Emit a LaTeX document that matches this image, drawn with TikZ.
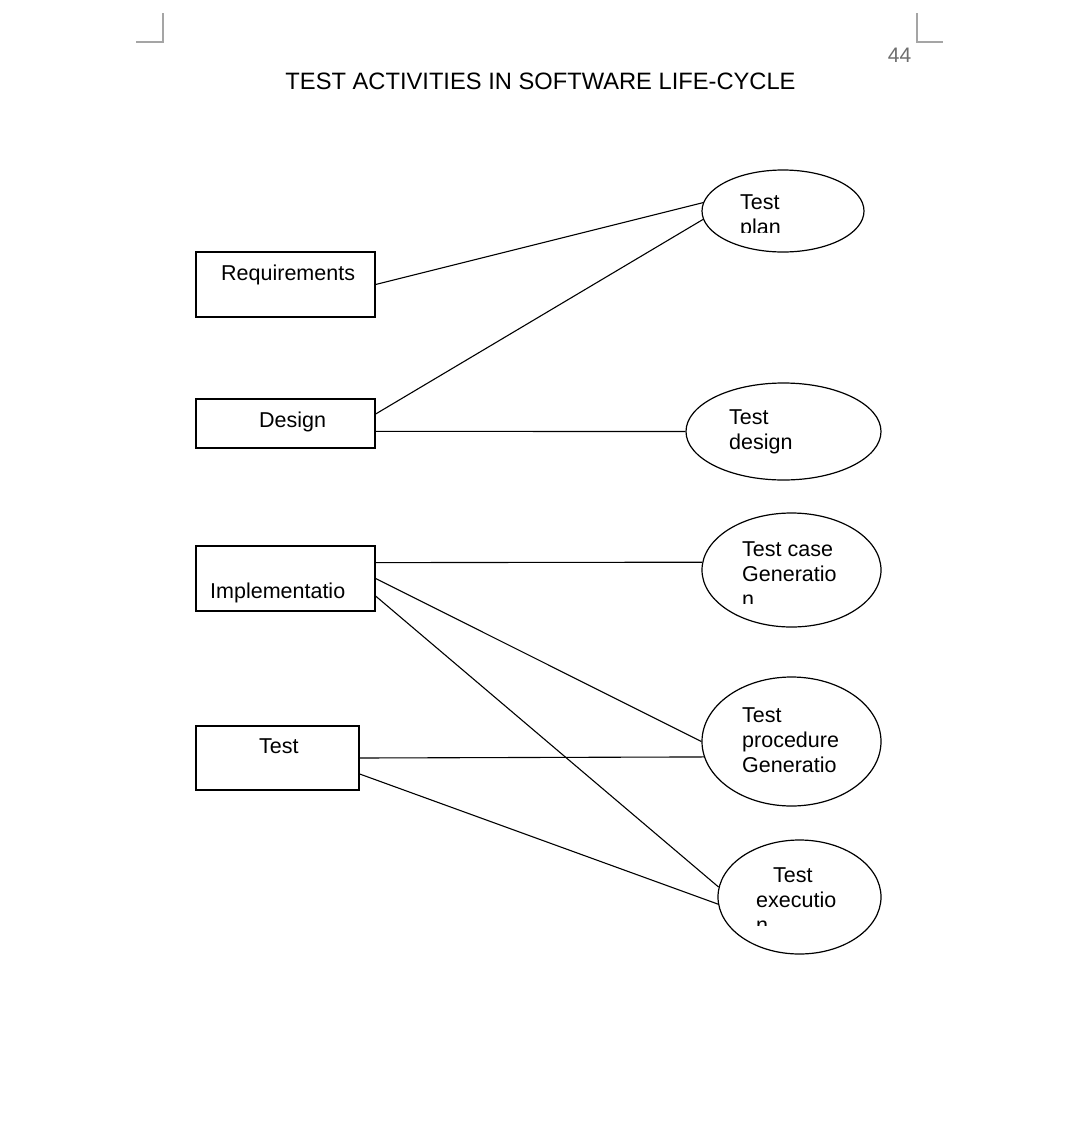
\documentclass[tikz,border=0pt]{standalone}
\usepackage{fontspec}
\setmainfont{Liberation Sans}
\usetikzlibrary{shapes.geometric}

\definecolor{markgray}{RGB}{165,165,165}
\definecolor{pagegray}{RGB}{110,110,110}

\tikzset{
	box/.style = {draw, rectangle, inner sep=0, line width=1.2pt},
	oval/.style = {draw, ellipse, inner sep=0, line width=1.2pt},
	lbl/.style = {anchor=base west, inner sep=0, font=\fontsize{21.5}{25}\selectfont},
	olbl/.style = {anchor=north west, inner sep=0, align=left, font=\fontsize{21.5}{25}\selectfont},
	cropmark/.style = {draw=markgray, line width=1.3pt},
	link/.style = {line width=1.1pt}
}

\begin{document}
\begin{tikzpicture}[x=1pt,y=-1pt]
	\useasboundingbox (0,0) rectangle (1080,1133);

	\draw[cropmark] (163,13) -- (163,42) -- (136,42);
	\draw[cropmark] (917,13) -- (917,42) -- (943,42);
	\node[anchor=base, inner sep=0, text=pagegray, font=\fontsize{21}{25}\selectfont] (page) at (899.5,62) {44};
	\node[anchor=base, inner sep=0, font=\fontsize{23.7}{28}\selectfont] (title) at (540.5,89) {TEST ACTIVITIES IN SOFTWARE LIFE-CYCLE};

	\node[box, minimum width=179pt, minimum height=65pt] (req) at (285.5,284.5) {};
	\node[box, minimum width=179pt, minimum height=49pt] (des) at (285.5,423.5) {};
	\node[box, minimum width=179pt, minimum height=65pt] (impl) at (285.5,578.5) {};
	\node[box, minimum width=163pt, minimum height=64pt] (tst) at (277.5,758) {};

	\node[lbl] (reqtxt) at (221,280) {Requirements};
	\node[lbl] (destxt) at (259,427) {Design};
	\node[lbl] (impltxt) at (210,598) {Implementatio};
	\node[lbl] (tsttxt) at (259,753) {Test};

	\node[oval, minimum width=162pt, minimum height=82pt] (plan) at (783,211) {};
	\node[oval, minimum width=195pt, minimum height=97pt] (design) at (783.5,431.5) {};
	\node[oval, minimum width=179pt, minimum height=114pt] (case) at (791.5,570) {};
	\node[oval, minimum width=179pt, minimum height=129pt] (proc) at (791.5,741.5) {};
	\node[oval, minimum width=163pt, minimum height=114pt] (exec) at (799.5,897) {};

	\begin{scope}
	\clip (720,180) rectangle (860,232);
	\node[olbl] (plantxt) at (740,194.6) {Test\\plan};
	\end{scope}
	\node[olbl] (designtxt) at (729,409.6) {Test\\design};
	\begin{scope}
	\clip (720,530) rectangle (870,603);
	\node[olbl] (casetxt) at (742,541.6) {Test case\\Generatio\\n};
	\end{scope}
	\node[olbl] (proctxt) at (742,707.6) {Test\\procedure\\Generatio};
	\begin{scope}
	\clip (740,860) rectangle (870,925);
	\node[olbl] (exectxt) at (756,867.6) {\hspace*{17pt}Test\\executio\\n};
	\end{scope}

	\draw[link] (req.east) -- (plan.174);
	\draw[link] (des.6) -- (plan.186);
	\draw[link] (des.-5) -- (design.west);
	\draw[link] (impl.10.4) -- (case.175.5);
	\draw[link] (impl.east) -- (proc.west);
	\draw[link] (impl.-11.1) -- (exec.173.6);
	\draw[link] (tst.east) -- (proc.190.8);
	\draw[link] (tst.-11.1) -- (exec.185);
\end{tikzpicture}
\end{document}
